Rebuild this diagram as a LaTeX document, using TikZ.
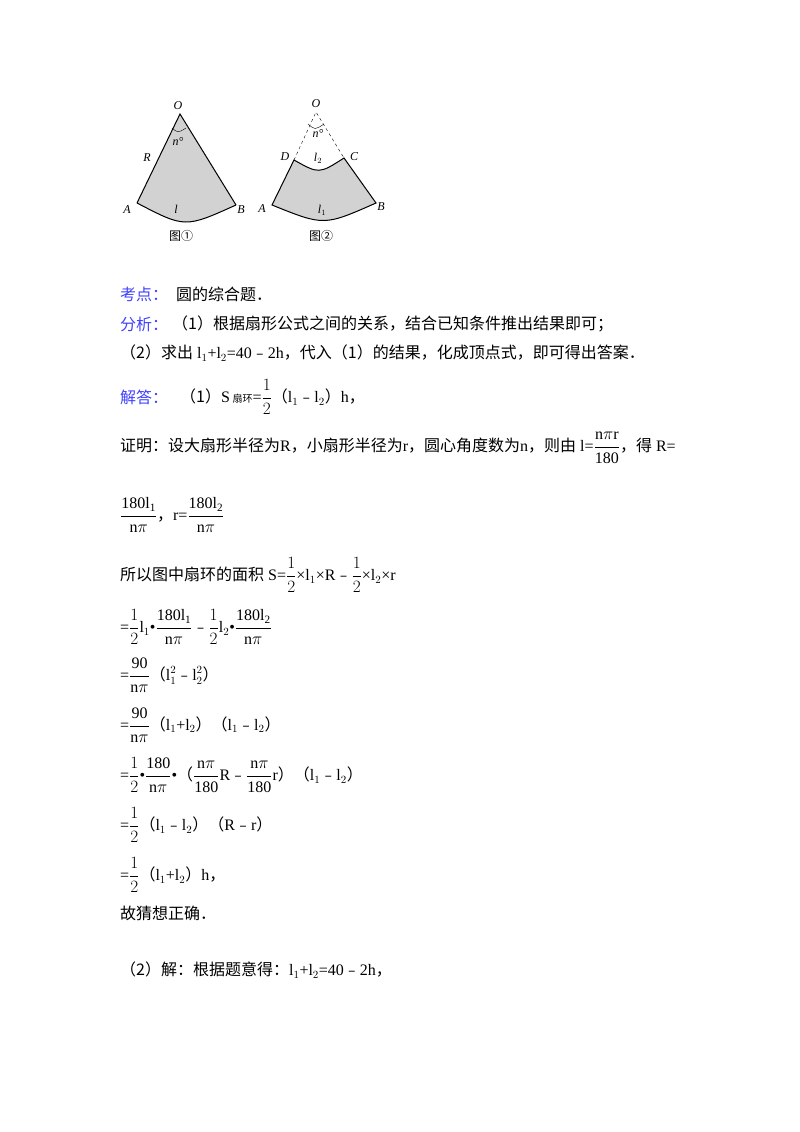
\documentclass[tikz,border=0pt]{standalone}
\usepackage{amsmath}
\usepackage{fontspec}
\setmainfont{Liberation Serif}
\newfontfamily\cjk{Noto Sans CJK SC}
\newcommand{\zh}[1]{{\cjk #1}}
\newcommand{\mi}{{\cjk ﹣}}
\newcommand{\fr}[2]{\dfrac{\mathrm{#1}}{\mathrm{#2}}}
\newcommand{\hf}{$\dfrac12$}
\begin{document}
\begin{tikzpicture}[x=1pt,y=-1pt,
  txt/.style={anchor=west,inner sep=0pt,font=\fontsize{16}{19}\selectfont},
  lab/.style={inner sep=0pt,font=\fontsize{12}{14}\selectfont\itshape},
  figcap/.style={inner sep=0pt,font=\fontsize{12}{14}\selectfont\cjk},
  bluetxt/.style={txt,text=blue!75!white},
  fillc/.style={fill=gray!35},
  fedge/.style={line width=1pt}]
\useasboundingbox (0,0) rectangle (800,1132);
% figure 1
\coordinate (O1) at (180,114);
\coordinate (A1) at (137,203);
\coordinate (B1) at (236,205);
\fill[fillc] (O1) -- (A1) .. controls (185,228) .. (B1) -- cycle;
\draw[fedge] (A1) -- (O1) -- (B1);
\draw[fedge] (A1) .. controls (185,228) .. (B1);
\draw (172,128) .. controls (178,133) .. (186,128);
\node[lab] (lo1) at (178,106) {O};
\node[lab] (ln1) at (178,142) {n°};
\node[lab] (lR) at (147,158) {R};
\node[lab] (lA1) at (127,210) {A};
\node[lab] (ll) at (176,209) {l};
\node[lab] (lB1) at (241,210) {B};
\node[figcap] (c1) at (181,236) {图①};
% figure 2
\coordinate (O2) at (316,112);
\coordinate (D) at (294,160);
\coordinate (C) at (344,158);
\coordinate (A2) at (272,205);
\coordinate (B2) at (376,203);
\fill[fillc] (D) .. controls (319,174) .. (C) -- (B2) .. controls (324,226) .. (A2) -- cycle;
\draw[fedge] (D) .. controls (319,174) .. (C) -- (B2) .. controls (324,226) .. (A2) -- cycle;
\draw[dashed] (D) -- (O2) -- (C);
\draw (308,124) .. controls (315,130) .. (324,124);
\node[lab] (lo2) at (316,104) {O};
\node[lab] (ln2) at (318,134) {n°};
\node[lab] (lD) at (285,157) {D};
\node[lab] (l2) at (318,158) {l$_2$};
\node[lab] (lC) at (354,157) {C};
\node[lab] (lA2) at (262,209) {A};
\node[lab] (l1) at (322,210) {l$_1$};
\node[lab] (lB2) at (381,207) {B};
\node[figcap] (c2) at (321,236) {图②};
% text
\node[bluetxt] (t1a) at (120,294) {\zh{考点：}};
\node[txt] (t1b) at (176,294) {\zh{圆的综合题．}};
\node[bluetxt] (t2a) at (120,324) {\zh{分析：}};
\node[txt] (t2b) at (172,324) {\zh{（1）根据扇形公式之间的关系，结合已知条件推出结果即可；}};
\node[txt] (t3) at (120,353) {\zh{（2）求出} l$_1$+l$_2$=40\mi2h\zh{，代入（1）的结果，化成顶点式，即可得出答案．}};
\node[bluetxt] (t4a) at (120,397) {\zh{解答：}};
\node[txt] (t4b) at (180,397) {\zh{（1）}S\,{\fontsize{10}{12}\selectfont\zh{扇环}}=\hf\zh{（}l$_1$\mi l$_2$\zh{）}h\zh{，}};
\node[txt] (t5) at (120,448) {\zh{证明：设大扇形半径为}R\zh{，小扇形半径为}r\zh{，圆心角度数为}n\zh{，则由} l=$\fr{n\pi r}{180}$\zh{，得} R=};
\node[txt] (t6) at (120,515) {$\fr{180l_1}{n\pi}$\zh{，}r=$\fr{180l_2}{n\pi}$};
\node[txt] (t7) at (120,575) {\zh{所以图中扇环的面积} S=\hf×l$_1$×R\mi\hf×l$_2$×r};
\node[txt] (t8) at (120,627) {=\hf l$_1$•$\fr{180l_1}{n\pi}$\mi\hf l$_2$•$\fr{180l_2}{n\pi}$};
\node[txt] (t9) at (120,675) {=$\fr{90}{n\pi}$\zh{（}l$_1^2$\mi l$_2^2$\zh{）}};
\node[txt] (t10) at (120,725) {=$\fr{90}{n\pi}$\zh{（}l$_1$+l$_2$\zh{）（}l$_1$\mi l$_2$\zh{）}};
\node[txt] (t11) at (120,775) {=\hf•$\fr{180}{n\pi}$•\zh{（}$\fr{n\pi}{180}$R\mi$\fr{n\pi}{180}$r\zh{）（}l$_1$\mi l$_2$\zh{）}};
\node[txt] (t12) at (120,825) {=\hf\zh{（}l$_1$\mi l$_2$\zh{）（}R\mi r\zh{）}};
\node[txt] (t13) at (120,875) {=\hf\zh{（}l$_1$+l$_2$\zh{）}h\zh{，}};
\node[txt] (t14) at (120,913) {\zh{故猜想正确．}};
\node[txt] (t15) at (120,970) {\zh{（2）解：根据题意得：}l$_1$+l$_2$=40\mi2h\zh{，}};
\end{tikzpicture}
\end{document}
